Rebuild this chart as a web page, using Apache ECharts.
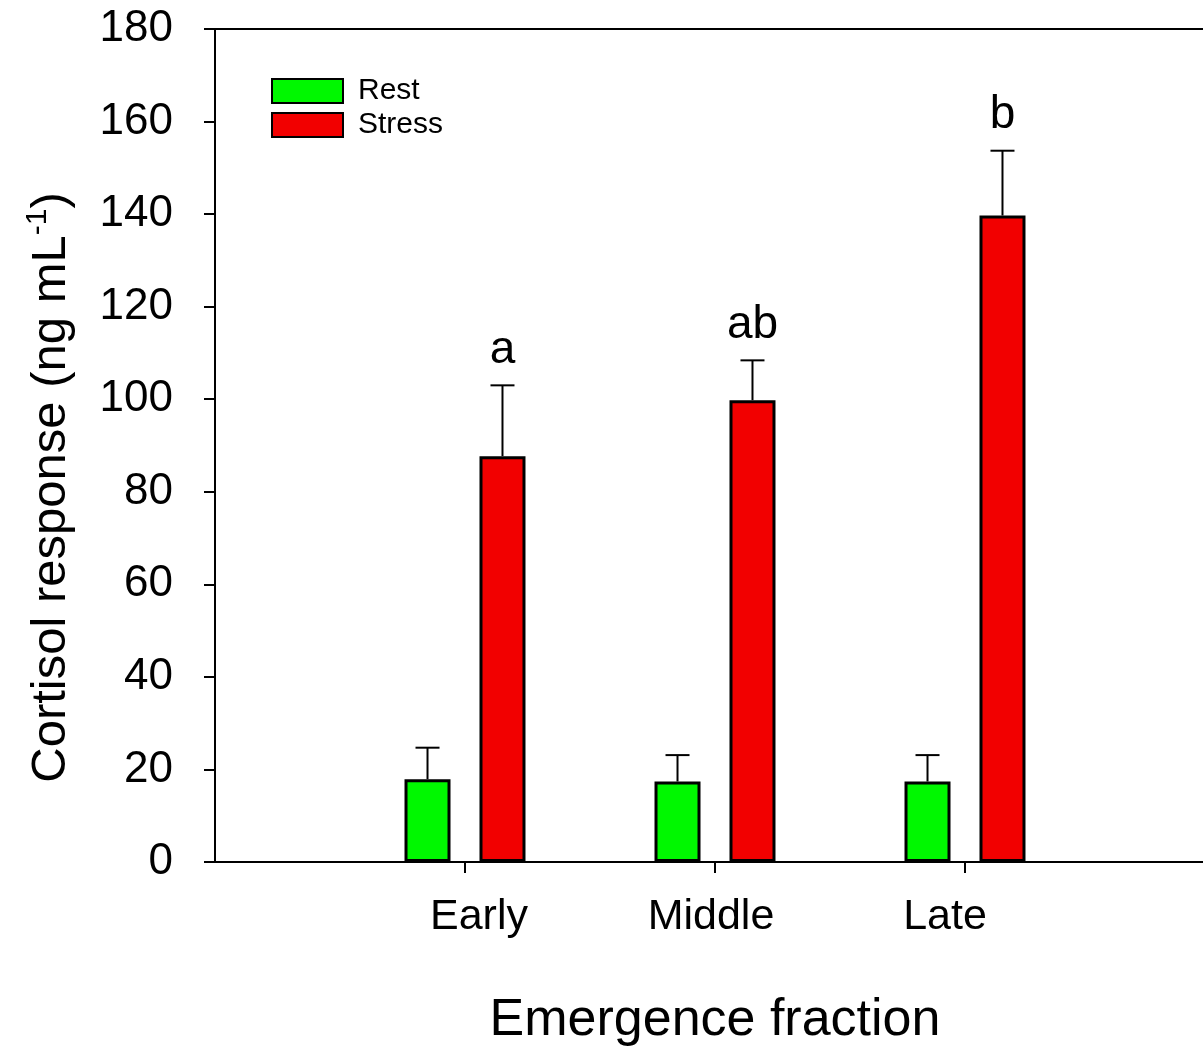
<!DOCTYPE html>
<html>
<head>
<meta charset="utf-8">
<script src="https://cdn.jsdelivr.net/npm/echarts@6/dist/echarts.min.js"></script>
<style>
html,body{margin:0;padding:0;background:#fff;}
#chart{width:1203px;height:1049px;}
</style>
</head>
<body>
<div id="chart"></div>
<script>
// ---- data ----
var categories = ['Early', 'Middle', 'Late'];
var restValues = [17.9, 17.4, 17.4];
var restErrors = [6.8, 5.7, 5.7];
var stressValues = [87.7, 99.8, 139.7];
var stressErrors = [15.3, 8.6, 14.0];
var stressLetters = ['a', 'ab', 'b'];
var yTicks = [0, 20, 40, 60, 80, 100, 120, 140, 160, 180];

// ---- style constants ----
var FONT = '"Liberation Sans", Arial, sans-serif';
var BAR_WIDTH = 46;
var BAR_GAP_RATIO = 0.63;
var BAR_OFFSET = (BAR_WIDTH + BAR_WIDTH * BAR_GAP_RATIO) / 2;
var CAP_HALF = 12;

// padded category axis (blank ends place categories like reference)
var axisCats = [''].concat(categories).concat(['']);
function pad(arr) { return ['-'].concat(arr).concat(['-']); }

var labelRich = {
  Early: { padding: [0, 0, 0, 28] },
  Middle: { padding: [0, 8, 0, 0] },
  Late: { padding: [0, 40, 0, 0] }
};
Object.keys(labelRich).forEach(function (k) {
  labelRich[k].fontSize = 43; labelRich[k].fontFamily = FONT; labelRich[k].color = '#000';
});

function errorItem(values, errors, side, letters) {
  return function (params, api) {
    var i = api.value(0);
    var v = api.value(1);
    var e = api.value(2);
    var base = api.coord([i, v]);
    var top = api.coord([i, v + e]);
    var x = base[0] + side * BAR_OFFSET;
    var children = [
      { type: 'line', shape: { x1: x, y1: base[1], x2: x, y2: top[1] }, style: { stroke: '#000', lineWidth: 2 } },
      { type: 'line', shape: { x1: x - CAP_HALF, y1: top[1], x2: x + CAP_HALF, y2: top[1] }, style: { stroke: '#000', lineWidth: 2 } }
    ];
    if (letters) {
      children.push({
        type: 'text',
        style: { text: letters[params.dataIndex], x: x, y: top[1] - 12, align: 'center', verticalAlign: 'bottom',
                 fontSize: 46, fontFamily: FONT, fill: '#000' }
      });
    }
    return { type: 'group', children: children };
  };
}

function errData(values, errors) {
  return values.map(function (v, k) { return [k + 1, v, errors[k]]; });
}

var chart = echarts.init(document.getElementById('chart'));
chart.setOption({
  animation: false,
  backgroundColor: '#fff',
  grid: { left: 215, right: -12, top: 29, bottom: 187, containLabel: false, outerBoundsMode: 'none' },
  legend: {
    orient: 'vertical', left: 271, top: 76, padding: 0,
    itemWidth: 71, itemHeight: 24, itemGap: 4,
    icon: 'rect',
    textStyle: { fontSize: 30, fontFamily: FONT, color: '#000', padding: [0, 0, 0, 10] },
    data: ['Rest', 'Stress']
  },
  xAxis: [{
    type: 'category', data: axisCats, boundaryGap: false,
    axisLine: { lineStyle: { color: '#000', width: 2 } },
    axisTick: { show: true, length: 11, lineStyle: { color: '#000', width: 2 },
                interval: function (idx) { return idx >= 1 && idx <= categories.length; } },
    axisLabel: { interval: function (idx) { return idx >= 1 && idx <= categories.length; }, margin: 34,
                 formatter: function (v) { return v ? '{' + v + '|' + v + '}' : ''; }, rich: labelRich },
    name: 'Emergence fraction', nameLocation: 'middle', nameGap: 133,
    nameTextStyle: { fontSize: 52, fontFamily: FONT, color: '#000' },
    splitLine: { show: false }
  }, {
    type: 'category', data: axisCats, boundaryGap: false, position: 'top',
    axisLine: { lineStyle: { color: '#000', width: 2 } },
    axisTick: { show: false }, axisLabel: { show: false }, splitLine: { show: false }
  }],
  yAxis: {
    type: 'value', min: yTicks[0], max: yTicks[yTicks.length - 1], interval: 20,
    axisLine: { show: true, lineStyle: { color: '#000', width: 2 } },
    axisTick: { show: true, length: 11, lineStyle: { color: '#000', width: 2 } },
    axisLabel: { fontSize: 44, fontFamily: FONT, color: '#000', margin: 42 },
    splitLine: { show: false },
    name: '{t|Cortisol response (ng mL}{s|-1}{t|)}',
    nameLocation: 'middle', nameRotate: 90, nameGap: 136,
    nameTextStyle: {
      padding: [0, 84, 0, 0],
      rich: {
        t: { fontSize: 49, fontFamily: FONT, color: '#000', lineHeight: 56 },
        s: { fontSize: 30, fontFamily: FONT, color: '#000', verticalAlign: 'top', lineHeight: 30 }
      }
    }
  },
  series: [
    { name: 'Rest', type: 'bar', data: pad(restValues), barWidth: BAR_WIDTH, barGap: (BAR_GAP_RATIO * 100) + '%',
      itemStyle: { color: '#00f800', borderColor: '#000', borderWidth: 3 } },
    { name: 'Stress', type: 'bar', data: pad(stressValues), barWidth: BAR_WIDTH, barGap: (BAR_GAP_RATIO * 100) + '%',
      itemStyle: { color: '#f20000', borderColor: '#000', borderWidth: 3 } },
    { type: 'custom', renderItem: errorItem(restValues, restErrors, -1, null), data: errData(restValues, restErrors), z: 5,
      encode: { x: 0, y: 1 } },
    { type: 'custom', renderItem: errorItem(stressValues, stressErrors, 1, stressLetters), data: errData(stressValues, stressErrors), z: 5,
      encode: { x: 0, y: 1 } }
  ]
});
</script>
</body>
</html>
